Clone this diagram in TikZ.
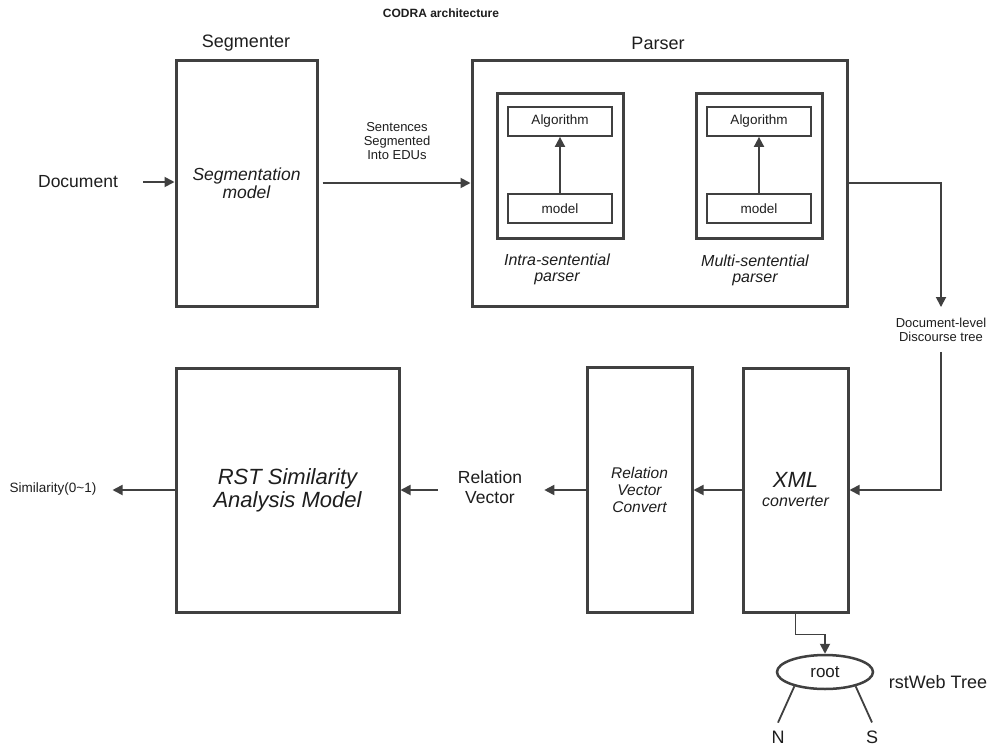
\documentclass[tikz,border=0pt]{standalone}
\usepackage{fontspec}
\setmainfont{Liberation Sans}
\usetikzlibrary{arrows.meta,shapes.geometric}

\definecolor{linegray}{RGB}{64,64,64}
\definecolor{textdark}{RGB}{30,30,30}

\newcommand{\fsz}[2]{\fontsize{#1}{#2}\selectfont}

\begin{document}
\begin{tikzpicture}[x=1pt,y=-1pt,
  every node/.style={text=textdark},
  box/.style={draw=linegray, line width=3pt, inner sep=0pt, align=center},
  smallbox/.style={draw=linegray, line width=1.8pt, minimum width=104pt,
    minimum height=29pt, inner sep=0pt, font=\fsz{13.5}{15}},
  lbl/.style={inner sep=0pt, align=center},
  conn/.style={draw=linegray, line width=1.8pt,
    -{Triangle[length=10pt,width=10pt]}},
  branch/.style={draw=linegray, line width=1.8pt},
]
\fill[white] (0,0) rectangle (994,750);
\useasboundingbox (0,0) rectangle (994,750);

% titles
\node[lbl, font=\bfseries\fsz{12}{14}] (title) at (441,13) {CODRA architecture};
\node[lbl, font=\fsz{18}{20}] (segtitle) at (246,43) {Segmenter};
\node[lbl, font=\fsz{18}{20}] (partitle) at (658,43) {Parser};

% segmenter
\node[box, minimum width=141pt, minimum height=246pt,
  font=\itshape\fsz{17.5}{18}] (seg) at (246.5,183) {Segmentation\\model};
\node[lbl, font=\fsz{17.5}{20}] (doc) at (78,182) {Document};
\node[lbl, font=\fsz{13}{14}] (edus) at (397,141) {Sentences\\Segmented\\Into EDUs};

% parser with its two sub-parsers
\node[box, minimum width=375pt, minimum height=246pt] (parser) at (659.5,183) {};
\node[box, minimum width=126pt, minimum height=145pt] (intra) at (560,165.5) {};
\node[smallbox] (alg1) at (560,121.5) {Algorithm};
\node[smallbox] (mod1) at (560,208.5) {model};
\node[lbl, font=\itshape\fsz{16}{16}] (intralbl) at (557,269) {Intra-sentential\\parser};

\node[box, minimum width=126pt, minimum height=145pt] (multi) at (759,165.5) {};
\node[smallbox] (alg2) at (759,121.5) {Algorithm};
\node[smallbox] (mod2) at (759,208.5) {model};
\node[lbl, font=\itshape\fsz{16}{16}] (multilbl) at (755,270) {Multi-sentential\\parser};

\node[lbl, font=\fsz{13}{14}] (dtree) at (941,330) {Document-level\\Discourse tree};

% lower chain
\node[box, minimum width=105pt, minimum height=244pt] (xml) at (795.5,490) {};
\node[lbl, font=\itshape\fsz{22}{22}] (xmltxt) at (795.5,480) {XML};
\node[lbl, font=\itshape\fsz{16}{16}] (convtxt) at (795.5,501) {converter};

\node[box, minimum width=105pt, minimum height=245pt,
  font=\itshape\fsz{15.5}{17}] (rvc) at (639.5,490) {Relation\\Vector\\Convert};
\node[lbl, font=\fsz{17.5}{20}] (relvec) at (490,487) {Relation\\Vector};
\node[box, minimum width=223pt, minimum height=244pt,
  font=\itshape\fsz{22}{23}] (rst) at (287.5,490) {RST Similarity\\Analysis Model};
\node[lbl, font=\fsz{13.5}{15}] (sim) at (53,489) {Similarity(0\textasciitilde1)};

% rstWeb tree
\node[draw=linegray, line width=2.5pt, ellipse, minimum width=96pt,
  minimum height=34pt, inner sep=0pt, font=\fsz{17}{18}] (root) at (825,672) {root};
\node[lbl, font=\fsz{18}{20}] (rstweb) at (938,682) {rstWeb Tree};
\node[lbl, font=\fsz{18}{20}] (nuc) at (778,737) {N};
\node[lbl, font=\fsz{18}{20}] (sat) at (872,737) {S};

% connectors
\draw[conn, shorten <=25pt] (doc.east) -- (doc.east -| seg.west);
\draw[conn, shorten <=4pt] (seg.east) -- (parser.west);
\draw[conn] (mod1.north) -- (alg1.south);
\draw[conn] (mod2.north) -- (alg2.south);
\draw[conn] (parser.east) -| ([yshift=11pt]dtree.north);
\draw[conn] ([yshift=-10pt]dtree.south) |- (xml.east);
\draw[conn] (xml.west) -- (rvc.east);
\draw[conn, shorten >=22pt] (rvc.west) -- (rvc.west -| relvec.east);
\draw[conn, shorten <=20pt] (rst.east -| relvec.west) -- (rst.east);
\draw[conn, shorten >=16pt] (rst.west) -- (rst.west -| sim.east);
\draw[conn] (xml.south) -- ++(0,21) -| (root.north);
\draw[branch] (root.-155) -- ([yshift=8pt]nuc.north);
\draw[branch] (root.-25) -- ([yshift=8pt]sat.north);
\end{tikzpicture}
\end{document}
